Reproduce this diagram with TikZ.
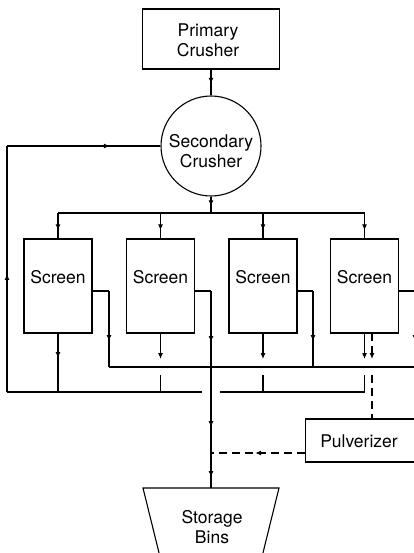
\documentclass[tikz,border=0pt]{standalone}
\usepackage{fontspec}
\setmainfont{TeX Gyre Heros}
\usetikzlibrary{arrows.meta,decorations.markings}
\begin{document}
\begin{tikzpicture}[x=1pt,y=-1pt, line width=1.1pt,
  >={Latex[length=6pt,width=5pt]},
  box/.style={draw, rectangle, inner sep=0pt},
  lbl/.style={font=\fontsize{17.5}{19.8}\selectfont, align=center, inner sep=0pt},
  dsh/.style={dash pattern=on 8pt off 5pt},
  arr at/.style={postaction={decorate}, decoration={markings, mark=at position #1 with {\arrow{>}}}},
]
\useasboundingbox (0,0) rectangle (414,553);
\clip (0,0) rectangle (414,553);

% nodes
\node[box, minimum width=137pt, minimum height=60pt] (pc) at (211,39) {};
\node[lbl] (pct) at (208,40) {Primary\\Crusher};
\node[draw, circle, minimum size=100pt, inner sep=0pt] (sc) at (211,146) {};
\node[lbl] (sct) at (211,151) {Secondary\\Crusher};
\foreach \n/\x in {1/58,2/160.5,3/263,4/364.5}{
  \node[box, minimum width=68pt, minimum height=94pt] (s\n) at (\x,286) {};
  \node[lbl] (st\n) at (\x,277) {Screen};
}
\node[box, minimum width=130pt, minimum height=43pt, anchor=west] (pv) at (305,440.5) {};
\node[lbl] (pvt) at (359,441) {Pulverizer};
\node[lbl] (sbt) at (212,527) {Storage\\Bins};
\coordinate (bintop) at (211,488);
\draw (143,488) -- (279,488) -- (258.5,571) -- (163.5,571) -- cycle;

% feed
\draw[arr at=0.55] (pc.south) -- (sc.north);
\coordinate (split) at (211,213);
\draw[arr at=0.6] (sc.south) -- (split);
\foreach \n/\x in {1/58,2/160.5,3/263,4/364.5}{
  \coordinate (d\n) at (\x,213);
  \draw[arr at=0.68] (d\n) -- (s\n.north);
}
\draw (d1) -- (d4);

% right (oversize) outputs
\coordinate (r1) at (109,291); \coordinate (j1) at (109,367);
\coordinate (r2) at (211,291);
\coordinate (r3) at (313,291); \coordinate (j3) at (313,367);
\coordinate (r4) at (415,291); \coordinate (j4) at (415,367);
\draw ([yshift=-5pt]s1.east) -- (r1);
\draw[arr at=0.66] (r1) -- (j1);
\draw ([yshift=-5pt]s2.east) -- (r2);
\draw[postaction={decorate}, decoration={markings,
   mark=at position 51pt with {\arrow{>}},
   mark=at position 136pt with {\arrow{>}},
   mark=at position 186pt with {\arrow{>}}}] (r2) -- (bintop);
\draw ([yshift=-5pt]s3.east) -- (r3);
\draw[arr at=0.66] (r3) -- (j3);
\draw ([yshift=-5pt]s4.east) -- (r4);
\draw[arr at=0.66] (r4) -- (j4);
\coordinate (jend) at (420,367);
\draw (j1) -- (jend);

% bottom outputs and recycle loop
\coordinate (b1) at (58,392);
\draw[arr at=0.42] (s1.south) -- (b1);
\foreach \n/\x in {2/160.5,3/263,4/364.5}{
  \coordinate (t\n) at (\x,359);
  \coordinate (u\n) at (\x,375);
  \coordinate (b\n) at (\x,392);
  \draw[->] (s\n.south) -- (t\n);
  \draw (u\n) -- (b\n);
}
\coordinate (g1) at (202,392);
\coordinate (g2) at (220,392);
\coordinate (lc) at (7,392);
\coordinate (lt) at (7,146);
\draw (b4) -- (g2);
\draw (g1) -- (b1) -- (lc);
\draw[arr at=0.48] (lc) -- (lt);
\draw[arr at=0.67] (lt) -- (sc.west);

% pulverizer (dashed)
\coordinate (ds) at (372,333);
\coordinate (dt) at (372,359);
\coordinate (du) at (372,375);
\coordinate (pvtop) at (372,419);
\draw[dsh, ->] (ds) -- (dt);
\draw[dsh] (du) -- (pvtop);
\coordinate (pvout) at (305,453);
\coordinate (pvin) at (211,453);
\draw[dsh, arr at=0.53] (pvout) -- (pvin);
\end{tikzpicture}
\end{document}
